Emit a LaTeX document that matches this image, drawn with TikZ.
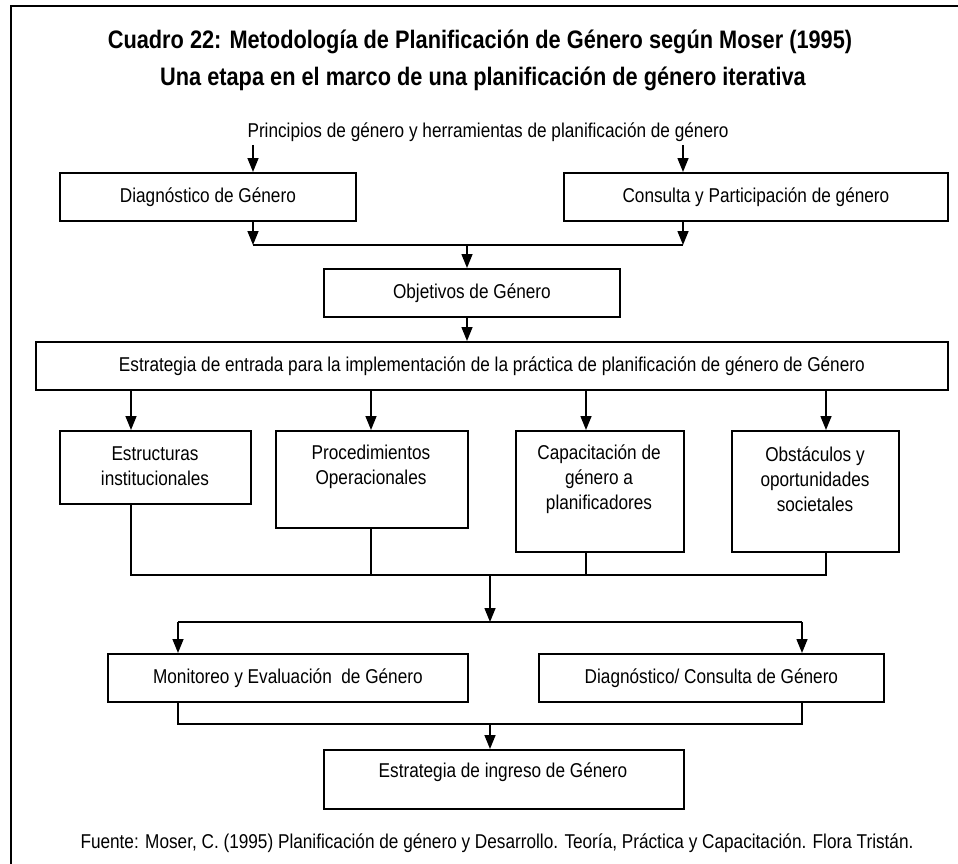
\documentclass[tikz,border=0pt]{standalone}
\usepackage{fontspec}
\setmainfont{Liberation Sans}[FakeStretch=0.86]
\usetikzlibrary{arrows.meta}
\begin{document}
\begin{tikzpicture}[x=1pt,y=-1pt,
  box/.style={draw, line width=1.8pt, inner sep=0pt, anchor=north west},
  txt/.style={font=\fontsize{20}{25}\selectfont, inner sep=0pt, align=center},
  ttl/.style={font=\bfseries\fontsize{25.3}{28}\selectfont, inner sep=0pt},
  conn/.style={line width=1.5pt},
  arr/.style={conn, -{Triangle[length=14pt,width=11pt]}}]
\useasboundingbox (0,0) rectangle (958,864);
\draw[line width=2pt] (958,6) -- (11,6) -- (11,864);
% titles
\node[ttl] (t1) at (480,42) {Cuadro 22: Metodología de Planificación de Género según Moser (1995)};
\node[ttl] (t2) at (483,79) {Una etapa en el marco de una planificación de género iterativa};
\node[txt] (pri) at (488,132) {Principios de género y herramientas de planificación de género};
% first row
\node[box, minimum width=296pt, minimum height=48pt] (D) at (59,172) {};
\node[txt] (Dt) at (D.center) {Diagnóstico de Género};
\node[box, minimum width=384pt, minimum height=48pt] (C) at (563,172) {};
\node[txt] (Ct) at (C.center) {Consulta y Participación de género};
\coordinate (pL) at (253,145); \coordinate (pR) at (683,145);
\draw[arr] (pL) -- (pL |- D.north);
\draw[arr] (pR) -- (pR |- C.north);
% objetivos
\node[box, minimum width=296pt, minimum height=48pt] (O) at (323,268) {};
\node[txt] (Ot) at (O.center) {Objetivos de Género};
\coordinate (j1L) at (253,245); \coordinate (j1R) at (683,245); \coordinate (j1) at (467,245);
\draw[arr] (j1L |- D.south) -- (j1L);
\draw[arr] (j1R |- C.south) -- (j1R);
\draw[conn] (j1L) -- (j1R);
\draw[arr] (j1) -- (j1 |- O.north);
% estrategia
\node[box, minimum width=912pt, minimum height=48pt] (E) at (35,341) {};
\node[txt] (Et) at (E.center) {Estrategia de entrada para la implementación de la práctica de planificación de género de Género};
\draw[arr] (j1 |- O.south) -- (j1 |- E.north);
% four boxes
\node[box, minimum width=191pt, minimum height=73pt] (B1) at (59,430) {};
\node[box, minimum width=192pt, minimum height=97pt] (B2) at (275,430) {};
\node[box, minimum width=168pt, minimum height=121pt] (B3) at (515,430) {};
\node[box, minimum width=167pt, minimum height=121pt] (B4) at (731,430) {};
\node[txt] (B1t) at (155,466.5) {Estructuras\\institucionales};
\node[txt] (B2t) at (371,466.5) {Procedimientos\\Operacionales};
\node[txt] (B3t) at (599,479) {Capacitación de\\género a\\planificadores};
\node[txt] (B4t) at (815,479) {Obstáculos y\\oportunidades\\societales};
\coordinate (a1) at (131,575); \coordinate (a2) at (371,575);
\coordinate (a3) at (586,575); \coordinate (a4) at (826,575);
\draw[arr] (a1 |- E.south) -- (a1 |- B1.north);
\draw[arr] (a2 |- E.south) -- (a2 |- B2.north);
\draw[arr] (a3 |- E.south) -- (a3 |- B3.north);
\draw[arr] (a4 |- E.south) -- (a4 |- B4.north);
\draw[conn] (a1 |- B1.south) -- (a1) -- (a4) -- (a4 |- B4.south);
\draw[conn] (a2 |- B2.south) -- (a2);
\draw[conn] (a3 |- B3.south) -- (a3);
% second merge
\coordinate (j2) at (490,575);
\coordinate (k) at (490,622); \coordinate (kL) at (178,622); \coordinate (kR) at (802,622);
\draw[arr] (j2) -- (k);
\node[box, minimum width=360pt, minimum height=48pt] (M) at (107,653) {};
\node[txt] (Mt) at (M.center) {Monitoreo y Evaluación\ \ de Género};
\node[box, minimum width=345pt, minimum height=48pt] (DC) at (538,653) {};
\node[txt] (DCt) at (DC.center) {Diagnóstico/ Consulta de Género};
\draw[conn] (kL) -- (kR);
\draw[arr] (kL) -- (kL |- M.north);
\draw[arr] (kR) -- (kR |- DC.north);
% final
\coordinate (mL) at (178,724); \coordinate (mR) at (802,724); \coordinate (m) at (490,724);
\node[box, minimum width=360pt, minimum height=59pt] (I) at (323,749) {};
\node[txt] (It) at (503,772) {Estrategia de ingreso de Género};
\draw[conn] (mL |- M.south) -- (mL) -- (mR) -- (mR |- DC.south);
\draw[arr] (m) -- (m |- I.north);
% source
\node[txt] (src) at (497,843) {Fuente: Moser, C. (1995) Planificación de género y Desarrollo. Teoría, Práctica y Capacitación. Flora Tristán.};
\end{tikzpicture}
\end{document}
